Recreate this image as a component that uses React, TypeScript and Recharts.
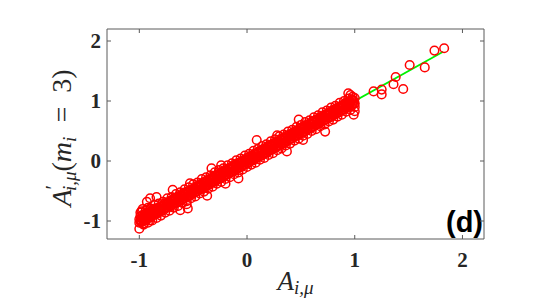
import React from "react";
import { ScatterChart, Scatter, XAxis, YAxis, Customized } from "recharts";

// A_{i,mu} (x) vs A'_{i,mu}(m_i = 3) (y)
const lowerCloud: [number, number][] = [
  [-1.0, -0.97], [-1.0, -1.03], [-1.0, -1.13], [-0.99, -0.92], [-0.99, -1.0], [-0.99, -0.86],
  [-0.98, -0.95], [-0.98, -1.01], [-0.97, -0.9], [-0.97, -0.98], [-0.97, -0.8], [-0.96, -0.94],
  [-0.96, -1.04], [-0.95, -0.89], [-0.95, -0.97], [-0.94, -0.92], [-0.94, -0.99], [-0.93, -0.68],
  [-0.93, -0.87], [-0.93, -0.95], [-0.92, -0.9], [-0.92, -0.78], [-0.91, -0.94], [-0.91, -0.85],
  [-0.9, -0.92], [-0.9, -0.99], [-0.9, -0.62], [-0.89, -0.86], [-0.89, -0.83], [-0.88, -0.91], [-0.87, -0.84],
  [-0.87, -0.89], [-0.86, -0.8], [-0.85, -0.88], [-0.85, -0.83], [-0.84, -0.79], [-0.84, -0.6], [-0.83, -0.86],
  [-0.82, -0.77], [-0.82, -0.83], [-0.81, -0.8], [-0.8, -0.84], [-0.79, -0.75], [-0.78, -0.8],
  [-0.77, -0.71], [-0.76, -0.78], [-0.75, -0.74], [-0.74, -0.69], [-0.73, -0.77], [-0.72, -0.72],
  [-0.71, -0.66], [-0.7, -0.74], [-0.69, -0.48], [-0.69, -0.67], [-0.68, -0.63], [-0.67, -0.7],
  [-0.66, -0.65], [-0.65, -0.6], [-0.64, -0.68], [-0.63, -0.62], [-0.62, -0.57], [-0.62, -0.82], [-0.61, -0.65],
  [-0.6, -0.59], [-0.59, -0.54], [-0.58, -0.62], [-0.57, -0.56], [-0.56, -0.72], [-0.56, -0.51],
  [-0.55, -0.79], [-0.55, -0.59], [-0.54, -0.53], [-0.53, -0.49], [-0.53, -0.37], [-0.52, -0.57], [-0.51, -0.5],
  [-0.5, -0.46], [-0.49, -0.53], [-0.48, -0.47], [-0.47, -0.42], [-0.46, -0.5], [-0.45, -0.44],
  [-0.44, -0.39], [-0.43, -0.47], [-0.42, -0.41], [-0.41, -0.36], [-0.4, -0.44], [-0.39, -0.38],
  [-0.38, -0.33], [-0.37, -0.58], [-0.37, -0.41], [-0.36, -0.35], [-0.35, -0.3], [-0.34, -0.38],
];

const middleCloud: [number, number][] = [
  [-0.33, -0.12], [-0.33, -0.32], [-0.32, -0.27], [-0.31, -0.35], [-0.3, -0.29], [-0.29, -0.24],
  [-0.28, -0.32], [-0.27, -0.26], [-0.26, -0.21], [-0.25, -0.29], [-0.24, -0.07], [-0.24, -0.23],
  [-0.23, -0.18], [-0.22, -0.26], [-0.21, -0.2], [-0.2, -0.38], [-0.2, -0.15], [-0.19, -0.23],
  [-0.18, -0.17], [-0.17, -0.12], [-0.16, -0.2], [-0.15, -0.14], [-0.14, -0.09], [-0.13, -0.17],
  [-0.12, -0.11], [-0.11, -0.06], [-0.1, -0.14], [-0.09, -0.08], [-0.08, -0.03], [-0.07, -0.11],
  [-0.08, -0.29], [-0.06, -0.05], [-0.05, 0.0], [-0.04, -0.08], [-0.03, -0.02], [-0.02, 0.03],
  [-0.01, -0.05], [0.0, 0.01], [0.01, 0.06], [0.02, -0.02], [0.03, 0.04], [0.04, 0.09],
  [0.05, 0.01], [0.06, 0.07], [0.07, 0.12], [0.08, 0.04], [0.09, 0.35], [0.09, 0.1],
  [0.1, 0.15], [0.11, 0.07], [0.12, 0.13], [0.13, 0.18], [0.14, 0.1], [0.15, 0.16],
  [0.16, 0.21], [0.17, 0.13], [0.18, 0.19], [0.19, 0.24], [0.2, 0.16], [0.21, 0.22],
  [0.22, 0.27], [0.23, 0.19], [0.24, 0.25], [0.25, 0.3], [0.28, 0.43], [0.26, 0.22], [0.27, 0.28],
  [0.28, 0.33], [0.29, 0.25], [0.3, 0.31], [0.31, 0.36], [0.32, 0.28], [0.33, 0.34],
  [0.34, 0.39], [0.35, 0.31], [0.36, 0.37], [0.37, 0.16], [0.37, 0.42], [0.38, 0.34],
];

const upperCloud: [number, number][] = [
  [0.39, 0.4], [0.4, 0.45], [0.41, 0.37], [0.42, 0.43], [0.43, 0.48], [0.44, 0.4],
  [0.45, 0.46], [0.46, 0.51], [0.47, 0.43], [0.48, 0.69], [0.48, 0.49], [0.49, 0.54],
  [0.5, 0.46], [0.51, 0.52], [0.52, 0.57], [0.52, 0.35], [0.53, 0.49], [0.54, 0.55], [0.55, 0.6],
  [0.56, 0.52], [0.57, 0.58], [0.58, 0.63], [0.59, 0.55], [0.6, 0.61], [0.61, 0.66],
  [0.62, 0.58], [0.63, 0.64], [0.64, 0.69], [0.65, 0.61], [0.66, 0.67], [0.67, 0.72],
  [0.68, 0.64], [0.69, 0.7], [0.7, 0.75], [0.71, 0.67], [0.72, 0.73], [0.725, 0.49],
  [0.73, 0.78], [0.74, 0.7], [0.75, 0.76], [0.76, 0.81], [0.77, 0.73], [0.78, 0.79],
  [0.79, 0.84], [0.8, 0.76], [0.81, 0.82], [0.82, 0.87], [0.83, 0.79], [0.84, 0.85],
  [0.85, 0.9], [0.86, 0.82], [0.87, 0.88], [0.88, 0.93], [0.89, 0.85], [0.9, 0.91],
  [0.91, 0.96], [0.92, 0.88], [0.93, 0.94], [0.94, 1.13], [0.94, 0.99], [0.95, 0.91],
  [0.96, 0.97], [0.96, 1.1], [0.97, 1.02], [0.98, 0.94], [0.99, 0.77], [0.99, 1.0],
  [1.0, 0.96], [1.0, 1.05], [1.0, 0.9],
];

const bandTop: [number, number][] = [
  [-0.98, -0.84], [-0.94, -0.82], [-0.9, -0.79], [-0.86, -0.73], [-0.82, -0.71], [-0.78, -0.68],
  [-0.74, -0.62], [-0.7, -0.6], [-0.66, -0.55], [-0.62, -0.52], [-0.58, -0.47], [-0.54, -0.44],
  [-0.5, -0.39], [-0.46, -0.36], [-0.42, -0.3], [-0.38, -0.27], [-0.34, -0.24], [-0.3, -0.19],
  [-0.26, -0.15], [-0.22, -0.12], [-0.18, -0.07], [-0.14, -0.04], [-0.1, 0.01], [-0.06, 0.04],
  [-0.02, 0.09], [0.02, 0.12], [0.06, 0.17], [0.1, 0.2], [0.14, 0.25], [0.18, 0.28],
  [0.22, 0.33], [0.26, 0.36], [0.3, 0.41], [0.34, 0.44], [0.38, 0.49], [0.42, 0.52],
  [0.46, 0.57], [0.5, 0.6], [0.54, 0.65], [0.58, 0.68], [0.62, 0.73], [0.66, 0.76],
  [0.7, 0.81], [0.74, 0.84], [0.78, 0.89], [0.82, 0.92], [0.86, 0.97], [0.9, 1.0],
  [0.94, 1.04], [0.98, 1.07],
];

const bandBottom: [number, number][] = [
  [-0.96, -1.06], [-0.92, -1.03], [-0.88, -0.99], [-0.84, -0.95], [-0.8, -0.91], [-0.76, -0.86],
  [-0.72, -0.83], [-0.68, -0.78], [-0.64, -0.75], [-0.6, -0.7], [-0.56, -0.67], [-0.52, -0.62],
  [-0.48, -0.59], [-0.44, -0.54], [-0.4, -0.51], [-0.36, -0.46], [-0.32, -0.43], [-0.28, -0.38],
  [-0.24, -0.35], [-0.2, -0.3], [-0.16, -0.27], [-0.12, -0.22], [-0.08, -0.19], [-0.04, -0.14],
  [0.0, -0.1], [0.04, -0.06], [0.08, -0.03], [0.12, 0.02], [0.16, 0.05], [0.2, 0.1],
  [0.24, 0.13], [0.28, 0.18], [0.32, 0.21], [0.36, 0.26], [0.4, 0.29], [0.44, 0.34],
  [0.48, 0.37], [0.52, 0.42], [0.56, 0.45], [0.6, 0.5], [0.64, 0.53], [0.68, 0.58],
  [0.72, 0.61], [0.76, 0.66], [0.8, 0.69], [0.84, 0.74], [0.88, 0.77], [0.92, 0.82],
  [0.96, 0.85], [1.0, 0.83],
];

const coreUpper: [number, number][] = [
  [-0.97, -0.94], [-0.94, -0.9], [-0.91, -0.88], [-0.88, -0.84], [-0.85, -0.82], [-0.82, -0.78],
  [-0.79, -0.76], [-0.76, -0.72], [-0.73, -0.7], [-0.7, -0.66], [-0.67, -0.64], [-0.64, -0.6],
  [-0.61, -0.58], [-0.58, -0.54], [-0.55, -0.52], [-0.52, -0.48], [-0.49, -0.46], [-0.46, -0.42],
  [-0.43, -0.4], [-0.4, -0.36], [-0.37, -0.34], [-0.34, -0.3], [-0.31, -0.28], [-0.28, -0.24],
  [-0.25, -0.22], [-0.22, -0.18], [-0.19, -0.16], [-0.16, -0.12], [-0.13, -0.1], [-0.1, -0.06],
  [-0.07, -0.04], [-0.04, 0.0], [-0.01, 0.02], [0.02, 0.06], [0.05, 0.08], [0.08, 0.12],
  [0.11, 0.14], [0.14, 0.18], [0.17, 0.2], [0.2, 0.24], [0.23, 0.26], [0.26, 0.3],
  [0.29, 0.32], [0.32, 0.36], [0.35, 0.38], [0.38, 0.42], [0.41, 0.44], [0.44, 0.48],
  [0.47, 0.5], [0.5, 0.54], [0.53, 0.56], [0.56, 0.6], [0.59, 0.62], [0.62, 0.66],
  [0.65, 0.68], [0.68, 0.72], [0.71, 0.74], [0.74, 0.78], [0.77, 0.8], [0.8, 0.84],
  [0.83, 0.86], [0.86, 0.9], [0.89, 0.92], [0.92, 0.96], [0.95, 0.98], [0.98, 1.02],
];

const coreLower: [number, number][] = [
  [-0.985, -1.02], [-0.955, -1.0], [-0.925, -0.96], [-0.895, -0.94], [-0.865, -0.9], [-0.835, -0.88],
  [-0.805, -0.84], [-0.775, -0.82], [-0.745, -0.78], [-0.715, -0.76], [-0.685, -0.72], [-0.655, -0.7],
  [-0.625, -0.66], [-0.595, -0.64], [-0.565, -0.6], [-0.535, -0.58], [-0.505, -0.54], [-0.475, -0.52],
  [-0.445, -0.48], [-0.415, -0.46], [-0.385, -0.42], [-0.355, -0.4], [-0.325, -0.36], [-0.295, -0.34],
  [-0.265, -0.3], [-0.235, -0.28], [-0.205, -0.24], [-0.175, -0.22], [-0.145, -0.18], [-0.115, -0.16],
  [-0.085, -0.12], [-0.055, -0.1], [-0.025, -0.06], [0.005, -0.04], [0.035, 0.0], [0.065, 0.02],
  [0.095, 0.06], [0.125, 0.08], [0.155, 0.12], [0.185, 0.14], [0.215, 0.18], [0.245, 0.2],
  [0.275, 0.24], [0.305, 0.26], [0.335, 0.3], [0.365, 0.32], [0.395, 0.36], [0.425, 0.38],
  [0.455, 0.42], [0.485, 0.44], [0.515, 0.48], [0.545, 0.5], [0.575, 0.54], [0.605, 0.56],
  [0.635, 0.6], [0.665, 0.62], [0.695, 0.66], [0.725, 0.68], [0.755, 0.72], [0.785, 0.74],
  [0.815, 0.78], [0.845, 0.8], [0.875, 0.84], [0.905, 0.86], [0.935, 0.9], [0.965, 0.92],
  [0.995, 0.96],
];

const tailPoints: [number, number][] = [
  [1.175, 1.16], [1.25, 1.19], [1.25, 1.11], [1.36, 1.28], [1.38, 1.4],
  [1.45, 1.2], [1.51, 1.6], [1.65, 1.56], [1.74, 1.84], [1.83, 1.88],
];

const fitLine: [number, number][] = [[-1.0, -1.0], [1.82, 1.82]];

const xTicks = [-1, 0, 1, 2];
const yTicks = [-1, 0, 1, 2];
const xDomain: [number, number] = [-1.3, 2.2];
const yDomain: [number, number] = [-1.3, 2.2];
const panelTag = "(d)";

const toRows = (pts: [number, number][]) => pts.map(([x, y]) => ({ x, y }));
const scatterRows = toRows([
  ...bandTop, ...bandBottom, ...coreUpper, ...coreLower,
  ...lowerCloud, ...middleCloud, ...upperCloud, ...tailPoints,
]);
const lineRows = toRows(fitLine);

const FRAME = "#5a5a5a";
const SERIF = "'Liberation Serif', 'Times New Roman', serif";

const Circle = (props: any) => (
  <circle cx={props.cx} cy={props.cy} r={4.3} fill="none" stroke="#ff0000" strokeWidth={1.5} />
);

const XTick = (props: any) => (
  <text x={props.x} y={props.y + 32} textAnchor="middle" fontFamily={SERIF} fontWeight="bold" fontSize={21} fill="#262626">
    {props.payload.value}
  </text>
);

const YTick = (props: any) => (
  <text x={props.x} y={props.y + 7} textAnchor="end" fontFamily={SERIF} fontWeight="bold" fontSize={21} fill="#262626">
    {props.payload.value}
  </text>
);

const Empty = () => <g />;

const XLabel = (props: any) => {
  const vb = props.viewBox || { x: 107, y: 239, width: 377 };
  const cx = vb.x + vb.width / 2;
  return (
    <text x={cx} y={vb.y + 51} textAnchor="middle" fontFamily={SERIF} fontSize={27} fill="#262626">
      <tspan fontStyle="italic">A</tspan>
      <tspan fontStyle="italic" fontSize={19} dy={4}>i,μ</tspan>
    </text>
  );
};

const YLabel = () => {
  const x = 71;
  const y = 138;
  return (
    <text x={x} y={y} transform={`rotate(-90, ${x}, ${y})`} textAnchor="middle" fontFamily={SERIF} fontSize={28} fill="#262626">
      <tspan fontStyle="italic">A</tspan>
      <tspan fontSize={20} dy={-11}>′</tspan>
      <tspan fontStyle="italic" fontSize={19} dx={-6} dy={16}>i,μ</tspan>
      <tspan dy={-5}>(</tspan>
      <tspan fontStyle="italic">m</tspan>
      <tspan fontStyle="italic" fontSize={19} dy={5}>i</tspan>
      <tspan dy={-5}>{"\u2002=\u20023)"}</tspan>
    </text>
  );
};

const Tag = () => (
  <text x={483} y={232} textAnchor="end" fontFamily="'Liberation Sans', Arial, sans-serif" fontWeight="bold" fontSize={29} fill="#000">
    {panelTag}
  </text>
);

export default function App() {
  return (
    <div style={{ position: "absolute", left: 0, top: 0, background: "#fff" }}>
      <ScatterChart width={538} height={299} margin={{ top: 28, right: 53, bottom: 0, left: 0 }}>
        <XAxis
          xAxisId="bottom"
          type="number"
          dataKey="x"
          domain={xDomain}
          ticks={xTicks}
          height={60}
          stroke={FRAME}
          tickSize={-4}
          tickMargin={0}
          tick={<XTick />}
          allowDataOverflow
          label={{ content: <XLabel /> } as any}
        />
        <XAxis
          xAxisId="top"
          orientation="top"
          type="number"
          dataKey="x"
          domain={xDomain}
          ticks={xTicks}
          height={1}
          stroke={FRAME}
          tickSize={-4}
          tick={<Empty />}
          allowDataOverflow
        />
        <YAxis
          yAxisId="left"
          type="number"
          dataKey="y"
          domain={yDomain}
          ticks={yTicks}
          width={107}
          stroke={FRAME}
          tickSize={-4}
          tickMargin={10}
          tick={<YTick />}
          allowDataOverflow
        />
        <YAxis
          yAxisId="right"
          orientation="right"
          type="number"
          dataKey="y"
          domain={yDomain}
          ticks={yTicks}
          width={1}
          stroke={FRAME}
          tickSize={-4}
          tick={<Empty />}
          allowDataOverflow
        />
        <Scatter
          xAxisId="bottom"
          yAxisId="left"
          data={lineRows}
          line={{ stroke: "#00f000", strokeWidth: 1.8 }}
          lineType="joint"
          shape={<Empty />}
          isAnimationActive={false}
        />
        <Scatter
          xAxisId="bottom"
          yAxisId="left"
          data={scatterRows}
          shape={<Circle />}
          isAnimationActive={false}
        />
        <Customized component={<YLabel />} />
        <Customized component={<Tag />} />
      </ScatterChart>
    </div>
  );
}
